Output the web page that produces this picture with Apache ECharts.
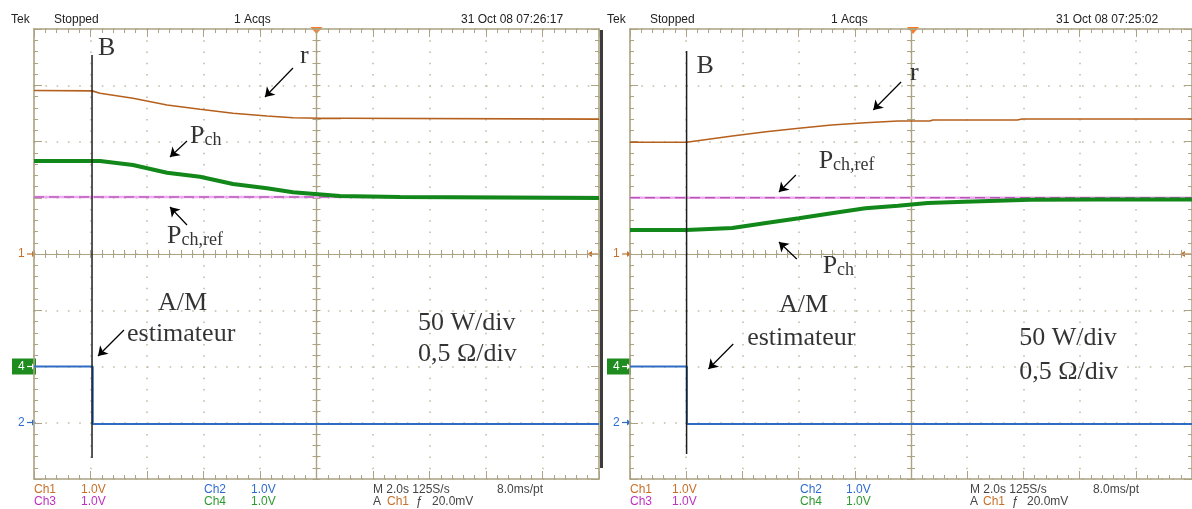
<!DOCTYPE html>
<html><head><meta charset="utf-8">
<script src="https://cdn.jsdelivr.net/npm/echarts@6/dist/echarts.min.js"></script>
<style>html,body{margin:0;padding:0;background:#fff}#c{width:1192px;height:509px}</style>
</head><body><div id="c"></div>
<script>
// ---------- data (x in time divisions from screen centre, 2.0 s/div; y in vertical divisions) ----------
const leftR   = [[-5,2.907],[-3.973,2.900],[-3.832,2.857],[-3.248,2.768],[-2.646,2.649],[-2.062,2.572],[-1.478,2.501],[-0.876,2.453],[-0.416,2.423],[0.062,2.412],[0.433,2.412],[0.45,2.398],[5,2.398]];
const leftPch = [[-5,1.653],[-3.832,1.653],[-3.248,1.582],[-2.646,1.445],[-2.062,1.374],[-1.478,1.244],[-0.876,1.168],[-0.416,1.097],[-0.027,1.067],[0.416,1.031],[1.478,1.013],[3.248,1.004],[5,0.996]];
const leftRef = [[-5,1.013],[5,1.013]];
const leftCh2 = [[-5,-2.0],[-3.96,-2.0],[-3.96,-3.02],[5,-3.02]];
const leftB   = [[-3.973,3.538],[-3.973,-3.627]];

const rightR   = [[-5,1.986],[-3.993,1.986],[-3.180,2.098],[-2.580,2.174],[-1.996,2.235],[-1.413,2.293],[-0.813,2.334],[-0.230,2.364],[0.336,2.364],[0.389,2.382],[1.890,2.382],[1.979,2.400],[5,2.400]];
const rightPch = [[-5,0.427],[-3.993,0.427],[-3.180,0.462],[-2.580,0.551],[-1.996,0.635],[-1.413,0.724],[-0.813,0.812],[-0.230,0.859],[0.300,0.907],[0.954,0.930],[1.537,0.948],[2.120,0.965],[3.3,0.969],[5,0.969]];
const rightRef = [[-5,1.0],[5,1.0]];
const rightCh2 = [[-5,-2.0],[-3.988,-2.0],[-3.988,-3.02],[5,-3.02]];
const rightB   = [[-3.993,3.609],[-3.993,-3.556]];

const leftNotes = [
  [-3.867,3.655,'B'],
  [-0.292,3.513,'r'],
  [-2.239,2.091,'{m|P}{s|ch}'],
  [-2.646,0.313,'{m|P}{s|ch,ref}'],
  [-2.805,-0.878,'A/M'],
  [-3.354,-1.429,'estimateur'],
  [1.796,-1.234,'50 W/div'],
  [1.796,-1.785,'0,5 \u03A9/div']
];
const rightNotes = [
  [-3.816,3.335,'B'],
  [-0.018,3.211,'r'],
  [-1.643,1.646,'{m|P}{s|ch,ref}'],
  [-1.572,-0.220,'{m|P}{s|ch}'],
  [-2.350,-0.914,'A/M'],
  [-2.915,-1.500,'estimateur'],
  [1.926,-1.500,'50 W/div'],
  [1.926,-2.098,'0,5 \u03A9/div']
];
const leftArrows = [
  [[-0.416,3.307],[-0.912,2.791]],
  [[-2.292,2.009],[-2.593,1.724]],
  [[-2.292,0.516],[-2.593,0.836]],
  [[-3.407,-1.351],[-3.867,-1.813]]
];
const rightArrows = [
  [[-0.177,3.058],[-0.671,2.56]],
  [[-2.049,1.404],[-2.350,1.102]],
  [[-2.032,-0.089],[-2.350,0.213]],
  [[-3.163,-1.6],[-3.604,-2.044]]
];
const headerLeft  = ['Tek','Stopped','1 Acqs','31 Oct 08 07:26:17'];
const headerRight = ['Tek','Stopped','1 Acqs','31 Oct 08 07:25:02'];

// ---------- styles ----------
const FRAME = '#aba383', DOT = '#c4bda3';
const SERIF = '"Liberation Serif","Times New Roman",serif';
const SANS = '"Liberation Sans",Arial,sans-serif';
const C_R = '#b5601d', C_P = '#13881a', C_REF = '#eeaaee', C_REF2 = '#a43aa4', C_B2 = '#2f6cc4';
const C1 = '#c8702a', C2 = '#2f6cd0', C3 = '#c030c0', C4 = '#2f9a2f', GR = '#444';

const grids = [], xAxes = [], yAxes = [], series = [], graphic = [];

function addPanel(gi, left, width, d) {
  grids.push({left: left, top: 29, width: width, height: 450});
  const xb = xAxes.length, yb = yAxes.length;
  const cx = {gridIndex: gi, type: 'value', min: -5, max: 5, interval: 1, axisLabel: {show: false}, splitLine: {show: false}, silent: true};
  const cy = {gridIndex: gi, type: 'value', min: -4, max: 4, interval: 1, axisLabel: {show: false}, splitLine: {show: false}, silent: true};
  const tk = (inside, len) => ({show: true, inside: inside, length: len, lineStyle: {color: FRAME, width: 1}});
  const mt = (len) => ({show: true, splitNumber: 5, length: len, lineStyle: {color: FRAME, width: 1}});
  xAxes.push(Object.assign({}, cx, {position: 'bottom', axisLine: {onZero: false, lineStyle: {color: FRAME, width: 1.6}}, axisTick: tk(true, 8), minorTick: mt(4),
    splitLine: {show: true, lineStyle: {color: DOT, width: 1.6, type: [1.6, 9.65]}}}));
  xAxes.push(Object.assign({}, cx, {position: 'top', axisLine: {onZero: false, lineStyle: {color: FRAME, width: 1.6}}, axisTick: tk(true, 8), minorTick: mt(4)}));
  xAxes.push(Object.assign({}, cx, {position: 'bottom', axisLine: {onZero: true, onZeroAxisIndex: yb, lineStyle: {color: FRAME, width: 1.2}}, axisTick: tk(true, 4), minorTick: mt(4)}));
  xAxes.push(Object.assign({}, cx, {position: 'bottom', axisLine: {onZero: true, onZeroAxisIndex: yb, lineStyle: {color: FRAME, width: 1.2}}, axisTick: tk(false, 4), minorTick: mt(4)}));
  yAxes.push(Object.assign({}, cy, {position: 'left', axisLine: {onZero: false, lineStyle: {color: FRAME, width: 1.6}}, axisTick: tk(true, 8), minorTick: mt(4),
    splitLine: {show: true, lineStyle: {color: DOT, width: 1.6, type: [1.6, 9.7]}}}));
  yAxes.push(Object.assign({}, cy, {position: 'right', axisLine: {onZero: false, lineStyle: {color: FRAME, width: 1.6}}, axisTick: tk(true, 8), minorTick: mt(4)}));
  yAxes.push(Object.assign({}, cy, {position: 'left', axisLine: {onZero: true, onZeroAxisIndex: xb, lineStyle: {color: FRAME, width: 1.2}}, axisTick: tk(true, 4), minorTick: mt(4)}));
  yAxes.push(Object.assign({}, cy, {position: 'left', axisLine: {onZero: true, onZeroAxisIndex: xb, lineStyle: {color: FRAME, width: 1.2}}, axisTick: tk(false, 4), minorTick: mt(4)}));

  const base = {xAxisIndex: xb, yAxisIndex: yb, showSymbol: false, symbol: 'none', animation: false, silent: true};
  const line = (data, color, width, extra) => Object.assign({type: 'line', data: data, lineStyle: Object.assign({color: color, width: width}, extra || {})}, base);
  series.push(line(d.ref, C_REF, 2.6));
  series.push(line(d.ref, C_REF2, 1.2, {type: [10, 5]}));
  series.push(line(d.pch, C_P, 4));
  series.push(line(d.r, C_R, 1.6));
  series.push(line(d.ch2, C_B2, 2));
  series.push(line(d.b, '#1e1e1e', 1.5));
  series.push({type: 'lines', coordinateSystem: 'cartesian2d', xAxisIndex: xb, yAxisIndex: yb, silent: true, animation: false,
    symbol: ['none', 'arrow'], symbolSize: 9,
    lineStyle: {color: '#000', width: 1.2, opacity: 1, curveness: 0},
    data: d.arrows.map(a => ({coords: a}))});
  series.push({type: 'scatter', xAxisIndex: xb, yAxisIndex: yb, symbolSize: 1, silent: true, animation: false,
    itemStyle: {color: 'rgba(0,0,0,0)'},
    label: {show: true, position: [0.5, 0.5], align: 'left', verticalAlign: 'middle', color: '#000',
      textBorderWidth: 0,
      fontFamily: SERIF, fontSize: 26,
      formatter: p => p.data.txt,
      rich: {m: {fontFamily: SERIF, fontSize: 26, lineHeight: 26, color: '#000'},
             s: {fontFamily: SERIF, fontSize: 18, lineHeight: 12, verticalAlign: 'bottom', color: '#000'}}},
    data: d.notes.map(n => ({value: [n[0], n[1]], txt: n[2]}))});
}

addPanel(0, 34, 565, {r: leftR, pch: leftPch, ref: leftRef, ch2: leftCh2, b: leftB, notes: leftNotes, arrows: leftArrows});
addPanel(1, 630, 566, {r: rightR, pch: rightPch, ref: rightRef, ch2: rightCh2, b: rightB, notes: rightNotes, arrows: rightArrows});

// ---------- oscilloscope chrome (screen texts & markers) ----------
function txt(x, y, s, color, size) {
  graphic.push({type: 'text', x: x, y: y, silent: true, style: {text: s, fill: color, font: (size || 12) + 'px ' + SANS, textVerticalAlign: 'middle'}});
}
function marker(x, y, label, color, boxed) {
  if (boxed) {
    graphic.push({type: 'rect', silent: true, shape: {x: x - 8, y: y - 8, width: 24, height: 16}, style: {fill: '#1f8c1f'}});
  }
  const c = boxed ? '#fff' : color;
  txt(x - 2, y, label, c, 12);
  graphic.push({type: 'line', silent: true, shape: {x1: x + 7, y1: y, x2: x + 13, y2: y}, style: {stroke: c, lineWidth: 1.2}});
  graphic.push({type: 'polygon', silent: true, shape: {points: [[x + 12, y - 3], [x + 16, y], [x + 12, y + 3]]}, style: {fill: c}});
}
function panelChrome(ox, cx, hdr, hx, fx, rightEdge) {
  txt(hx[0], 20, hdr[0], '#222'); txt(hx[1], 20, hdr[1], '#222'); txt(hx[2], 20, hdr[2], '#222'); txt(hx[3], 20, hdr[3], '#222');
  txt(fx[0], 490, 'Ch1', C1); txt(fx[1], 490, '1.0V', C1);
  txt(fx[0], 502, 'Ch3', C3); txt(fx[1], 502, '1.0V', C3);
  txt(fx[2], 490, 'Ch2', C2); txt(fx[3], 490, '1.0V', C2);
  txt(fx[2], 502, 'Ch4', C4); txt(fx[3], 502, '1.0V', C4);
  txt(fx[4], 490, 'M 2.0s 125S/s', GR); txt(fx[5], 490, '8.0ms/pt', GR);
  txt(fx[4], 502, 'A', GR); txt(fx[6], 502, 'Ch1', C1); txt(fx[7], 502, '\u0192', GR); txt(fx[8], 502, '20.0mV', GR);
  marker(ox, 254, '1', C1, false);
  marker(ox, 366.5, '4', C4, true);
  marker(ox, 422.5, '2', C2, false);
  graphic.push({type: 'polygon', silent: true, shape: {points: [[cx - 6, 27], [cx + 6, 27], [cx, 34]]}, style: {fill: '#ff7a28'}});
  graphic.push({type: 'polygon', silent: true, shape: {points: [[rightEdge - 12, 254], [rightEdge - 7, 251], [rightEdge - 7, 257]]}, style: {fill: C1}});
  graphic.push({type: 'line', silent: true, shape: {x1: rightEdge - 8, y1: 254, x2: rightEdge - 1, y2: 254}, style: {stroke: C1, lineWidth: 1.2}});
}
panelChrome(20, 316.5, headerLeft, [11, 54, 234, 461], [34, 81, 204, 251, 373, 497, 387, 416, 432], 599);
panelChrome(615, 913, headerRight, [607, 650, 831, 1056], [630, 672, 800, 846, 970, 1093, 983, 1012, 1027], 1192);
graphic.push({type: 'rect', silent: true, shape: {x: 600, y: 30, width: 3, height: 438}, style: {fill: '#3c3c3c'}});

const chart = echarts.init(document.getElementById('c'), null, {renderer: 'canvas'});
chart.setOption({
  backgroundColor: '#fff',
  animation: false,
  grid: grids, xAxis: xAxes, yAxis: yAxes, series: series, graphic: graphic
});
</script>
</body></html>
